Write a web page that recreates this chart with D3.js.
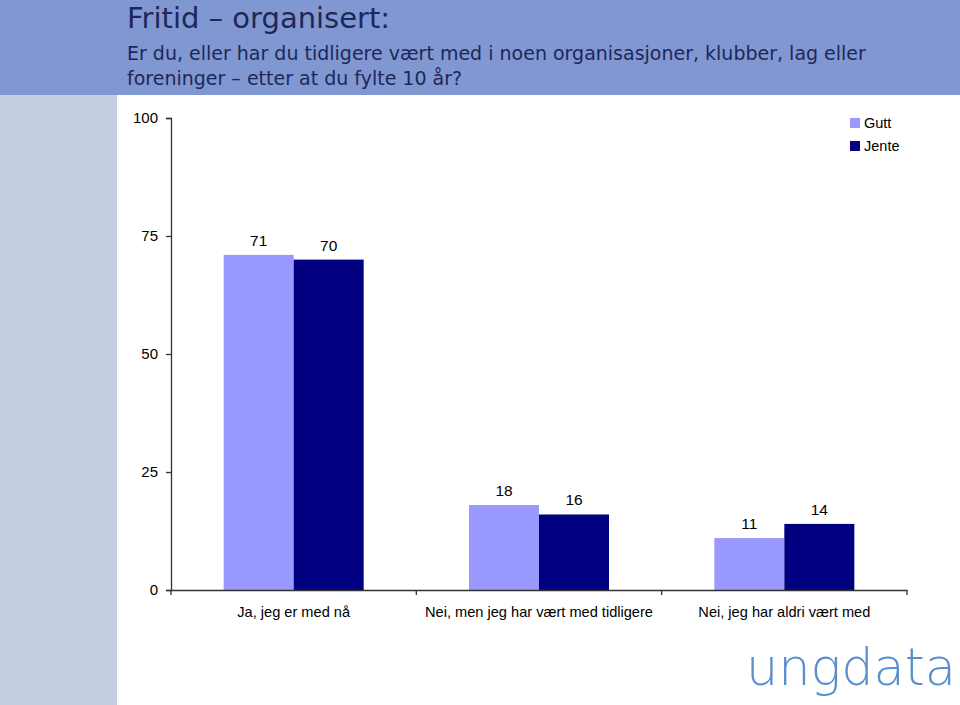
<!DOCTYPE html>
<html><head><meta charset="utf-8">
<script src="https://cdn.jsdelivr.net/npm/d3@7/dist/d3.min.js"></script>
<style>body{margin:0;background:#fff}svg{display:block}</style>
</head><body>
<svg id="c" width="960" height="705"></svg>
<script>
const categories = ["Ja, jeg er med nå", "Nei, men jeg har vært med tidligere", "Nei, jeg har aldri vært med"];
const seriesNames = ["Gutt", "Jente"];
const gutt = [71, 18, 11];
const jente = [70, 16, 14];
const yTicks = [0, 25, 50, 75, 100];
const colors = ["#9999FF", "#000080"];
const titleText = "Fritid – organisert:";
const subtitleLines = ["Er du, eller har du tidligere vært med i noen organisasjoner, klubber, lag eller", "foreninger – etter at du fylte 10 år?"];

const svg = d3.select("#c");
svg.append("rect").attr("x",0).attr("y",0).attr("width",960).attr("height",95).attr("fill","#8097D1");
svg.append("rect").attr("x",0).attr("y",95).attr("width",117).attr("height",610).attr("fill","#C3CDE1");

svg.append("text").attr("x",127).attr("y",28).attr("font-family","DejaVu Sans, Verdana, sans-serif")
  .attr("font-size",29).attr("fill","#1E2858").text(titleText);
subtitleLines.forEach((t,i)=>{
  svg.append("text").attr("x",127).attr("y",60+i*25).attr("font-family","DejaVu Sans, Verdana, sans-serif")
    .attr("font-size",19).attr("fill","#1E2858").text(t);
});

const x0 = d3.scaleBand().domain(categories).range([171, 907]).paddingInner(0).paddingOuter(0);
const x1 = d3.scaleBand().domain(seriesNames).range([0, 140]);
const y = d3.scaleLinear().domain([0,100]).range([590,118]);

const g = svg.append("g");
const data = categories.map((c,i)=>({c, vals:[gutt[i], jente[i]]}));
const grp = g.selectAll("g.cat").data(data).join("g")
  .attr("transform", d => `translate(${x0(d.c) + (x0.bandwidth()-140)/2},0)`);
grp.selectAll("rect").data(d => d.vals.map((v,j)=>({v, s:seriesNames[j], j}))).join("rect")
  .attr("x", d => x1(d.s)).attr("width", x1.bandwidth())
  .attr("y", d => y(d.v)).attr("height", d => y(0)-y(d.v))
  .attr("fill", d => colors[d.j]);
grp.selectAll("text").data(d => d.vals.map((v,j)=>({v, s:seriesNames[j], j}))).join("text")
  .attr("x", d => x1(d.s)+x1.bandwidth()/2).attr("y", d => y(d.v)-9)
  .attr("text-anchor","middle").attr("font-family","Liberation Sans, Arial, sans-serif")
  .attr("font-size",15.5).attr("fill","#000").text(d => d.v);

const yAxis = svg.append("g").attr("transform","translate(171,0)")
  .call(d3.axisLeft(y).tickValues(yTicks).tickSize(5).tickPadding(8));
yAxis.select(".domain").attr("stroke","#333").attr("stroke-width",1.3);
yAxis.selectAll(".tick line").attr("stroke","#333").attr("stroke-width",1.3);
yAxis.selectAll(".tick text").attr("font-family","Liberation Sans, Arial, sans-serif").attr("font-size",15).attr("fill","#000");

const xAxis = svg.append("g").attr("transform","translate(0,590)")
  .call(d3.axisBottom(x0).tickSize(0).tickPadding(17));
xAxis.select(".domain").attr("stroke","#333").attr("stroke-width",1.3);
xAxis.selectAll(".tick text").attr("font-family","Liberation Sans, Arial, sans-serif").attr("font-size",14.6).attr("fill","#000");
const bounds = categories.map(c=>x0(c)).concat([x0.range()[1]]);
svg.append("g").selectAll("line").data(bounds).join("line")
  .attr("x1",d=>d).attr("x2",d=>d).attr("y1",590).attr("y2",595).attr("stroke","#333").attr("stroke-width",1.3);

const leg = svg.append("g").attr("transform","translate(850,118)");
seriesNames.forEach((s,i)=>{
  leg.append("rect").attr("x",0).attr("y",i*23).attr("width",10).attr("height",10).attr("fill",colors[i]);
  leg.append("text").attr("x",14).attr("y",i*23+10).attr("font-family","Liberation Sans, Arial, sans-serif")
    .attr("font-size",14.5).attr("fill","#000").text(s);
});

svg.append("text").attr("x",746).attr("y",685).attr("font-family","DejaVu Sans, sans-serif")
  .attr("font-weight",200).attr("font-size",52).attr("textLength",210).attr("lengthAdjust","spacingAndGlyphs")
  .attr("fill","#5B8FCB").text("ungdata");
</script>
</body></html>
